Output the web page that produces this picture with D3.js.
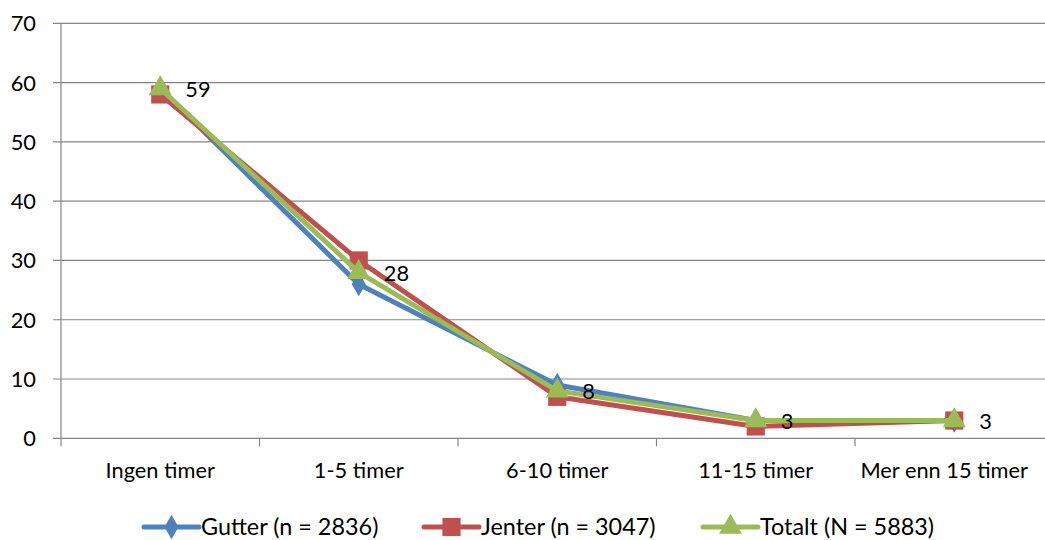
<!DOCTYPE html>
<html><head><meta charset="utf-8">
<script src="https://cdn.jsdelivr.net/npm/d3@7"></script>
<style>body{margin:0;background:#fff}svg{display:block}text{font-family:Lato,"Liberation Sans",sans-serif;}</style>
</head><body>
<svg id="c" width="1045" height="540"></svg>
<script>
const categories = ["Ingen timer","1-5 timer","6-10 timer","11-15 timer","Mer enn 15 timer"];
const gutter = [59,26,9,3,3];
const jenter = [58,30,7,2,3];
const totalt = [59,28,8,3,3];
const yTicks = [0,10,20,30,40,50,60,70];
const seriesNames = ["Gutter (n = 2836)","Jenter (n = 3047)","Totalt (N = 5883)"];

const series = [
  {name: seriesNames[0], values: gutter, color:"#4F81BD", symbol:"diamond"},
  {name: seriesNames[1], values: jenter, color:"#C0504D", symbol:"square"},
  {name: seriesNames[2], values: totalt, color:"#9BBB59", symbol:"triangle", labels:true}
];

const svg = d3.select("#c");
const L = 61, R = 1053.5, T = 23.3, B = 438.3;
const x = d3.scaleBand().domain(categories).range([L,R]);
const y = d3.scaleLinear().domain([0,70]).range([B,T]);
const grid = "#868686";
const FS = 21.8;
const LFS = 23.4;

svg.append("g").selectAll("line").data(yTicks).join("line")
  .attr("x1",L-8).attr("x2",R).attr("y1",d=>y(d)).attr("y2",d=>y(d))
  .attr("stroke",grid).attr("stroke-width",1.2);
svg.append("line").attr("x1",L).attr("x2",L).attr("y1",T).attr("y2",B+8)
  .attr("stroke",grid).attr("stroke-width",1.2);
const bounds = categories.map(c=>x(c)).concat([R]);
svg.append("g").selectAll("line").data(bounds.slice(1)).join("line")
  .attr("x1",d=>d).attr("x2",d=>d).attr("y1",B).attr("y2",B+8)
  .attr("stroke",grid).attr("stroke-width",1.2);
svg.append("g").selectAll("text").data(yTicks).join("text")
  .attr("x",36).attr("y",d=>y(d)+8).attr("text-anchor","end")
  .attr("font-size",FS).attr("fill","#000").text(d=>d);
svg.append("g").selectAll("text").data(categories).join("text")
  .attr("x",d=>x(d)+x.bandwidth()/2).attr("y",478).attr("text-anchor","middle")
  .attr("font-size",FS).attr("fill","#000").text(d=>d)
  .each(function(){
    const bb = this.getBBox();
    const maxR = 1028;
    if (bb.x + bb.width > maxR) {
      d3.select(this).attr("text-anchor","end").attr("x", maxR);
    }
  });

const cx = c => x(c)+x.bandwidth()/2;
const symType = {diamond: d3.symbolDiamond, square: d3.symbolSquare, triangle: d3.symbolTriangle};
const symSize = {diamond: 170, square: 330, triangle: 230};

function marker(g, s, px, py){
  g.append("path").attr("d", d3.symbol().type(symType[s.symbol]).size(symSize[s.symbol])())
   .attr("transform",`translate(${px},${py})`).attr("fill",s.color);
}

const line = d3.line().x(d=>cx(d.c)).y(d=>y(d.v));
series.forEach(s=>{
  const pts = categories.map((c,i)=>({c, v:s.values[i]}));
  const g = svg.append("g");
  g.append("path").datum(pts).attr("d",line).attr("fill","none")
    .attr("stroke",s.color).attr("stroke-width",5).attr("stroke-linejoin","round");
  pts.forEach(p=>marker(g,s,cx(p.c),y(p.v)));
});
const lg = svg.append("g");
categories.forEach((c,i)=>{
  lg.append("text").attr("x",cx(c)+25).attr("y",y(totalt[i])+8.5)
    .attr("font-size",FS).attr("fill","#000").text(totalt[i]);
});

const legendX = [144, 424, 703];
series.forEach((s,i)=>{
  const g = svg.append("g");
  const lx = legendX[i], ly = 527;
  g.append("line").attr("x1",lx).attr("x2",lx+55).attr("y1",ly).attr("y2",ly)
    .attr("stroke",s.color).attr("stroke-width",5).attr("stroke-linecap","round");
  marker(g,s,lx+27.5,ly);
  g.append("text").attr("x",lx+57).attr("y",ly+8).attr("font-size",LFS).attr("fill","#000").text(s.name);
});
</script>
</body></html>
